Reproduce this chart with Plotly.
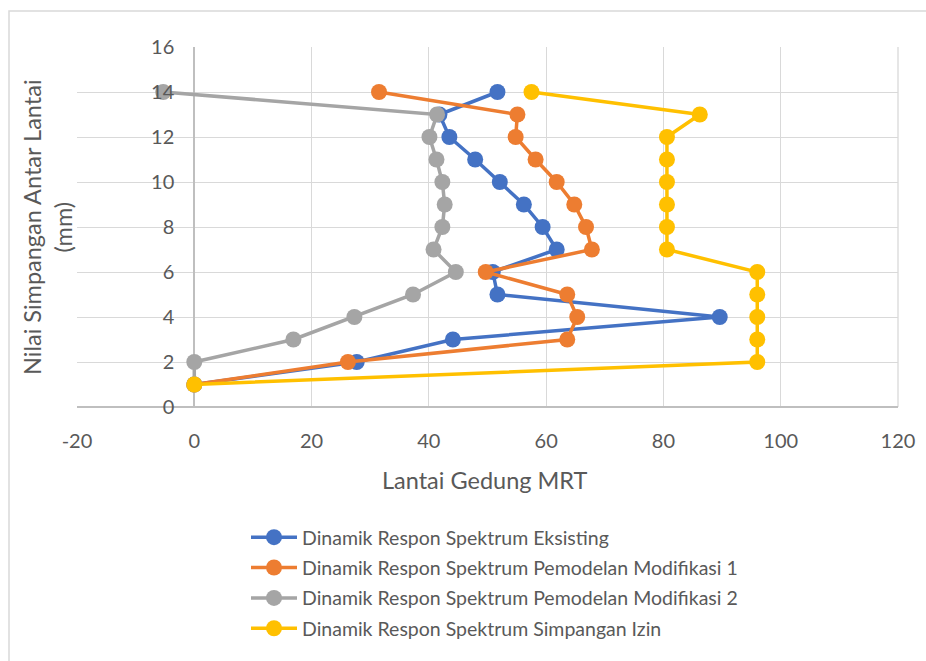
import plotly.graph_objects as go

floors = [1, 2, 3, 4, 5, 6, 7, 8, 9, 10, 11, 12, 13, 14]
eksisting = [0, 27.7, 44.1, 89.6, 51.7, 50.9, 61.8, 59.4, 56.2, 52.1, 47.9, 43.5, 41.8, 51.7]
modifikasi1 = [0, 26.2, 63.6, 65.3, 63.6, 49.7, 67.8, 66.8, 64.8, 61.8, 58.2, 54.8, 55.1, 31.5]
modifikasi2 = [0, 0, 16.9, 27.3, 37.3, 44.6, 40.8, 42.3, 42.7, 42.3, 41.3, 40.1, 41.4, -5.3]
simpangan_izin = [0, 96.0, 96.0, 96.0, 96.0, 96.0, 80.6, 80.6, 80.6, 80.6, 80.6, 80.6, 86.2, 57.5]

names = [
    "Dinamik Respon Spektrum Eksisting",
    "Dinamik Respon Spektrum Pemodelan Modifikasi 1",
    "Dinamik Respon Spektrum Pemodelan Modifikasi 2",
    "Dinamik Respon Spektrum Simpangan Izin",
]
colors = ["#4472C4", "#ED7D31", "#A5A5A5", "#FFC000"]
series = [eksisting, modifikasi1, modifikasi2, simpangan_izin]

x_ticks = [-20, 0, 20, 40, 60, 80, 100, 120]
y_ticks = [0, 2, 4, 6, 8, 10, 12, 14, 16]

FONT = "Lato"
TXT = "#595959"

fig = go.Figure()
for i, (name, col, vals) in enumerate(zip(names, colors, series)):
    fig.add_trace(go.Scatter(
        x=vals, y=floors, name=name, mode="lines+markers",
        line=dict(color=col, width=3.5),
        marker=dict(color=col, size=16),
        cliponaxis=False, legendgroup=f"g{i}",
    ))

W, H = 926, 661
L, R, T, B = 77, 28, 47, 254
pw, ph = W - L - R, H - T - B

def px2paper_x(px):
    return (px - L) / pw

def px2paper_y(py):
    return (H - B - py) / ph

fig.update_layout(
    width=W, height=H,
    margin=dict(l=L, r=R, t=T, b=B),
    paper_bgcolor="white", plot_bgcolor="white",
    font=dict(family=FONT, size=20, color=TXT),
    showlegend=True,
    legend=dict(
        x=px2paper_x(246), y=px2paper_y(518), xanchor="left", yanchor="top",
        font=dict(family=FONT, size=19.5, color=TXT),
        bgcolor="rgba(0,0,0,0)", tracegroupgap=2, itemwidth=46,
    ),
    xaxis=dict(
        range=[-20, 120], tickvals=x_ticks, ticktext=[str(v) for v in x_ticks],
        showgrid=True, gridcolor="#D9D9D9", gridwidth=1.3,
        zeroline=True, zerolinecolor="#BFBFBF", zerolinewidth=1.5,
        showline=False, ticks="", ticklabelstandoff=20,
        tickfont=dict(family=FONT, size=20, color=TXT),
        mirror=False,
    ),
    yaxis=dict(
        range=[0, 16], tickvals=y_ticks, ticktext=[str(v) for v in y_ticks],
        showgrid=True, gridcolor="#D9D9D9", gridwidth=1.3,
        zeroline=True, zerolinecolor="#BFBFBF", zerolinewidth=1.5,
        anchor="free", position=(0 - (-20)) / 140,
        showline=False, ticks="", ticklabelstandoff=20,
        tickfont=dict(family=FONT, size=20, color=TXT),
    ),
    annotations=[
        dict(text="Nilai Simpangan Antar Lantai<br>(mm)", textangle=-90,
             xref="paper", yref="paper", x=px2paper_x(47), y=px2paper_y(227),
             xanchor="center", yanchor="middle", showarrow=False,
             font=dict(family=FONT, size=23.5, color=TXT)),
        dict(text="Lantai Gedung MRT",
             xref="paper", yref="paper", x=px2paper_x(484), y=px2paper_y(480),
             xanchor="center", yanchor="middle", showarrow=False,
             font=dict(family=FONT, size=23.5, color=TXT)),
    ],
    shapes=[
        dict(type="rect", xref="paper", yref="paper",
             x0=px2paper_x(9), x1=px2paper_x(940), y0=px2paper_y(675), y1=px2paper_y(11),
             line=dict(color="#D9D9D9", width=1.5), fillcolor="rgba(0,0,0,0)", layer="below"),
        dict(type="line", xref="paper", yref="paper",
             x0=1, x1=1, y0=0, y1=1, line=dict(color="#D9D9D9", width=1.3), layer="below"),
    ],
)

fig.write_html("out.html")
